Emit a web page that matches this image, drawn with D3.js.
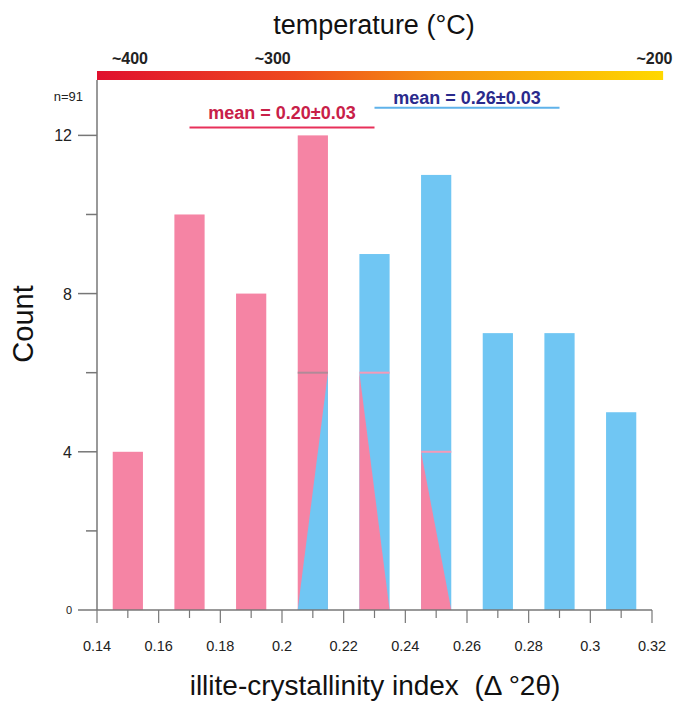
<!DOCTYPE html>
<html>
<head>
<meta charset="utf-8">
<script src="https://cdn.jsdelivr.net/npm/d3@7"></script>
<style>
  body { margin: 0; background: #fff; }
  svg { font-family: "Liberation Sans", Arial, sans-serif; }
</style>
</head>
<body>
<svg id="chart" width="673" height="703"></svg>
<script>
// histogram bins (illite-crystallinity index, centre of each bin)
const binCentres = [0.15, 0.17, 0.19, 0.21, 0.23, 0.25, 0.27, 0.29, 0.31];
const binCounts  = [4, 10, 8, 12, 9, 11, 7, 7, 5];
const binGroup   = ["low", "low", "low", "low", "high", "high", "high", "high", "high"];
// level where the bar is shared with the other group (0 = not shared)
const splitLevel = [0, 0, 0, 6, 6, 4, 0, 0, 0];

const xTicks = [0.14, 0.16, 0.18, 0.2, 0.22, 0.24, 0.26, 0.28, 0.3, 0.32];
const xMinorTicks = [0.15, 0.17, 0.19, 0.21, 0.23, 0.25, 0.27, 0.29, 0.31];
const yTicks = [0, 4, 8, 12];
const yMinorTicks = [2, 6, 10];

// temperature labels on the colour bar, placed by index value
const tempLabels = ["~400", "~300", "~200"];
const tempAt     = [0.1507, 0.197, 0.3208];

// means with their spread
const meanValues = [0.20, 0.26];
const meanSd     = [0.03, 0.03];
const meanLabels = ["mean = 0.20\u00b10.03", "mean = 0.26\u00b10.03"];
const meanLevel  = [12.2, 12.7];

const width = 673, height = 703;
const margin = {top: 80, right: 21, bottom: 93, left: 97};
const pink = "#f584a4", blue = "#70c6f3";
const colour = g => g === "low" ? pink : blue;
const other = g => g === "low" ? blue : pink;

const svg = d3.select("#chart");

const x = d3.scaleLinear().domain([0.14, 0.32]).range([margin.left, width - margin.right]);
const y = d3.scaleLinear().domain([0, 13.4]).range([height - margin.bottom, margin.top]);
const halfW = 0.0049;

// colour bar
const grad = svg.append("defs").append("linearGradient").attr("id", "tgrad");
grad.append("stop").attr("offset", "0%").attr("stop-color", "#e0102e");
grad.append("stop").attr("offset", "35%").attr("stop-color", "#ee4a1e");
grad.append("stop").attr("offset", "60%").attr("stop-color", "#f59010");
grad.append("stop").attr("offset", "100%").attr("stop-color", "#ffd800");

svg.append("rect")
  .attr("x", x(0.14)).attr("y", y(13.4) - 9)
  .attr("width", x(0.3236) - x(0.14)).attr("height", 9)
  .attr("fill", "url(#tgrad)");

svg.selectAll(".temp")
  .data(tempLabels)
  .enter().append("text")
  .attr("x", (d, i) => x(tempAt[i]))
  .attr("y", y(13.4) - 16)
  .attr("text-anchor", "middle")
  .attr("font-size", 16).attr("font-weight", "bold")
  .attr("fill", "#222")
  .text(d => d);

svg.append("text")
  .attr("x", 374).attr("y", 34)
  .attr("text-anchor", "middle")
  .attr("font-size", 27)
  .attr("fill", "#111")
  .text("temperature (\u00b0C)");

// bars
const bars = binCentres.map((c, i) => ({c, n: binCounts[i], g: binGroup[i], s: splitLevel[i]}));

svg.selectAll(".bar")
  .data(bars)
  .enter().append("rect")
  .attr("x", d => x(d.c - halfW))
  .attr("width", d => x(d.c + halfW) - x(d.c - halfW))
  .attr("y", d => y(d.n))
  .attr("height", d => y(0) - y(d.n))
  .attr("fill", d => colour(d.g));

// shared part of mixed bins: triangle of the other group
const shared = bars.filter(d => d.s > 0);
svg.selectAll(".tri")
  .data(shared)
  .enter().append("path")
  .attr("fill", d => other(d.g))
  .attr("d", d => {
    const x0 = x(d.c - halfW), x1 = x(d.c + halfW);
    if (d.g === "low") {
      return `M${x1},${y(d.s)}L${x1},${y(0)}L${x0},${y(0)}Z`;
    }
    return `M${x0},${y(d.s)}L${x0},${y(0)}L${x1},${y(0)}Z`;
  });

svg.selectAll(".split")
  .data(shared)
  .enter().append("line")
  .attr("x1", d => x(d.c - halfW)).attr("x2", d => x(d.c + halfW))
  .attr("y1", d => y(d.s)).attr("y2", d => y(d.s))
  .attr("stroke", d => d.g === "low" ? "#b08a98" : "#f49ab8")
  .attr("stroke-width", 2);

// axes
const axisCol = "#777";
svg.append("line")
  .attr("x1", x(0.14)).attr("x2", x(0.14))
  .attr("y1", y(0)).attr("y2", y(13.4))
  .attr("stroke", axisCol).attr("stroke-width", 1.5);
svg.append("line")
  .attr("x1", x(0.14)).attr("x2", x(0.32))
  .attr("y1", y(0)).attr("y2", y(0))
  .attr("stroke", axisCol).attr("stroke-width", 1.5);

const yAxis = svg.append("g");
yAxis.selectAll(".ymaj").data(yTicks).enter().append("line")
  .attr("x1", x(0.14) - 19).attr("x2", x(0.14))
  .attr("y1", d => y(d)).attr("y2", d => y(d))
  .attr("stroke", axisCol).attr("stroke-width", 1.5);
yAxis.selectAll(".ymin").data(yMinorTicks).enter().append("line")
  .attr("x1", x(0.14) - 11).attr("x2", x(0.14))
  .attr("y1", d => y(d)).attr("y2", d => y(d))
  .attr("stroke", axisCol).attr("stroke-width", 1.5);
yAxis.selectAll(".ylab").data(yTicks).enter().append("text")
  .attr("x", x(0.14) - 25).attr("y", d => y(d) + (d === 0 ? 4 : 6))
  .attr("text-anchor", "end")
  .attr("font-size", d => d === 0 ? 11 : 16)
  .attr("fill", "#222")
  .text(d => d);

const xAxis = svg.append("g");
xAxis.selectAll(".xmaj").data(xTicks).enter().append("line")
  .attr("x1", d => x(d)).attr("x2", d => x(d))
  .attr("y1", y(0)).attr("y2", y(0) + 13)
  .attr("stroke", axisCol).attr("stroke-width", 1.2);
xAxis.selectAll(".xmin").data(xMinorTicks).enter().append("line")
  .attr("x1", d => x(d)).attr("x2", d => x(d))
  .attr("y1", y(0)).attr("y2", y(0) + 8)
  .attr("stroke", axisCol).attr("stroke-width", 1.2);
xAxis.selectAll(".xlab").data(xTicks).enter().append("text")
  .attr("x", d => x(d)).attr("y", y(0) + 41)
  .attr("text-anchor", "middle")
  .attr("font-size", 14.5)
  .attr("fill", "#222")
  .text(d => d);

svg.append("text")
  .attr("x", 375).attr("y", 695)
  .attr("text-anchor", "middle")
  .attr("font-size", 28)
  .attr("fill", "#111")
  .style("white-space", "pre")
  .text("illite-crystallinity index  (\u0394 \u00b02\u03b8)");

svg.append("text")
  .attr("transform", `translate(33,324) rotate(-90)`)
  .attr("text-anchor", "middle")
  .attr("font-size", 29)
  .attr("fill", "#111")
  .text("Count");

svg.append("text")
  .attr("x", 83).attr("y", 101)
  .attr("text-anchor", "end")
  .attr("font-size", 13)
  .attr("fill", "#222")
  .text("n=91");

// mean ± sd
const meanCols = [{line: "#e8305a", text: "#c82048"}, {line: "#5fb2ea", text: "#2a2a8c"}];
const meanGap = [8, 4];
meanValues.forEach((m, i) => {
  svg.append("line")
    .attr("x1", x(m - meanSd[i])).attr("x2", x(m + meanSd[i]))
    .attr("y1", y(meanLevel[i])).attr("y2", y(meanLevel[i]))
    .attr("stroke", meanCols[i].line).attr("stroke-width", 2);
  svg.append("text")
    .attr("x", x(m)).attr("y", y(meanLevel[i]) - meanGap[i])
    .attr("text-anchor", "middle")
    .attr("font-size", 18).attr("font-weight", "bold")
    .attr("fill", meanCols[i].text)
    .text(meanLabels[i]);
});
</script>
</body>
</html>
